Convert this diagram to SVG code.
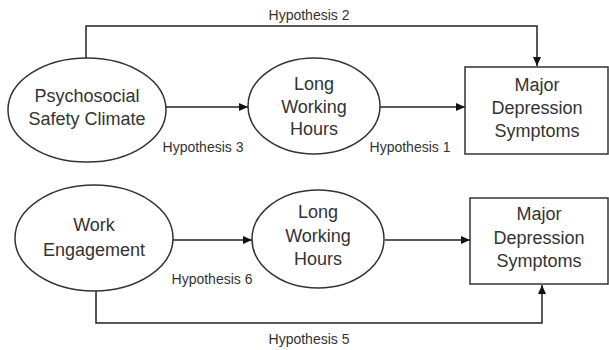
<svg xmlns="http://www.w3.org/2000/svg" width="609" height="350" viewBox="0 0 609 350">
<style>
.shape{fill:#fff;stroke:#333;stroke-width:1.5}
.conn{fill:none;stroke:#222;stroke-width:1.5}
.t{font-family:"Liberation Sans",Arial,sans-serif;font-size:18px;fill:#333;text-anchor:middle}
.h{font-family:"Liberation Sans",Arial,sans-serif;font-size:14px;fill:#333;text-anchor:middle}
</style>
<defs>
<marker id="ah" markerWidth="10" markerHeight="10" refX="9" refY="5" orient="auto" markerUnits="userSpaceOnUse">
<path d="M0,1 L9,5 L0,9 Z" fill="#111"/>
</marker>
</defs>
<rect width="609" height="350" fill="#fff"/>
<g id="connectors">
<path class="conn" d="M86,58 V26 H537 V66" marker-end="url(#ah)"/>
<path class="conn" d="M166,107 H248" marker-end="url(#ah)"/>
<path class="conn" d="M380,107 H465" marker-end="url(#ah)"/>
<path class="conn" d="M173,240 H252" marker-end="url(#ah)"/>
<path class="conn" d="M385,240 H470" marker-end="url(#ah)"/>
<path class="conn" d="M96,291 V323 H542 V285" marker-end="url(#ah)"/>
</g>
<g id="labels">
<text class="h" x="309" y="20">Hypothesis 2</text>
<text class="h" x="203" y="152">Hypothesis 3</text>
<text class="h" x="410" y="152">Hypothesis 1</text>
<text class="h" x="212" y="284">Hypothesis 6</text>
<text class="h" x="309" y="344">Hypothesis 5</text>
</g>
<g id="psc">
<ellipse class="shape" cx="87" cy="110" rx="79" ry="52"/>
<text class="t" x="87" y="102">Psychosocial</text>
<text class="t" x="87" y="125">Safety Climate</text>
</g>
<g id="lwh1">
<ellipse class="shape" cx="314" cy="106" rx="66" ry="48"/>
<text class="t" x="314" y="90">Long</text>
<text class="t" x="314" y="113">Working</text>
<text class="t" x="314" y="135">Hours</text>
</g>
<g id="mds1">
<rect class="shape" x="465" y="67" width="143" height="87"/>
<text class="t" x="537" y="91">Major</text>
<text class="t" x="537" y="114">Depression</text>
<text class="t" x="537" y="137">Symptoms</text>
</g>
<g id="we">
<ellipse class="shape" cx="94" cy="238" rx="79" ry="53"/>
<text class="t" x="94" y="231">Work</text>
<text class="t" x="94" y="256">Engagement</text>
</g>
<g id="lwh2">
<ellipse class="shape" cx="318" cy="239" rx="66" ry="49"/>
<text class="t" x="318" y="218">Long</text>
<text class="t" x="318" y="242">Working</text>
<text class="t" x="318" y="265">Hours</text>
</g>
<g id="mds2">
<rect class="shape" x="470" y="198" width="138" height="86"/>
<text class="t" x="539" y="220">Major</text>
<text class="t" x="539" y="244">Depression</text>
<text class="t" x="539" y="267">Symptoms</text>
</g>
</svg>
